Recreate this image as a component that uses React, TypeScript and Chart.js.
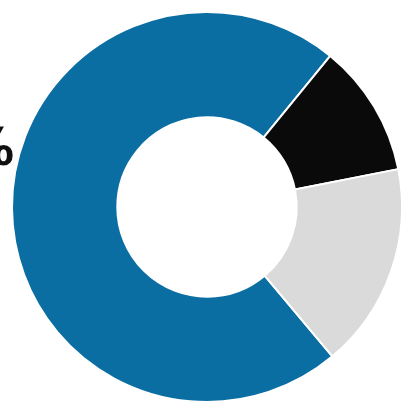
import React, { useEffect, useRef } from "react";
import { Chart, registerables } from "chart.js";

Chart.register(...registerables);

const categories = ["Blue", "Black", "Gray"];
const values = [72, 11, 17];
const colors = ["#0a6ea3", "#0a0a0a", "#dadada"];
const sideLabel = "%";

const textPlugin = {
  id: "sideText",
  afterDraw(chart: any) {
    const ctx = chart.ctx;
    ctx.save();
    ctx.fillStyle = "#111111";
    ctx.font = 'bold 52px "Liberation Sans Narrow", "DejaVu Sans Condensed", sans-serif';
    ctx.textAlign = "right";
    ctx.textBaseline = "alphabetic";
    ctx.fillText(sideLabel, 14, 165);
    ctx.restore();
  },
};

export default function App() {
  const ref = useRef<HTMLCanvasElement | null>(null);
  useEffect(() => {
    if (!ref.current) return;
    const chart = new Chart(ref.current, {
      type: "doughnut",
      data: {
        labels: categories,
        datasets: [
          {
            data: values,
            backgroundColor: colors,
            borderColor: "#ffffff",
            borderWidth: 2,
          },
        ],
      },
      options: {
        responsive: false,
        animation: false,
        rotation: 140,
        cutout: "46%",
        layout: { padding: { left: 11, top: 11, right: 17, bottom: 17 } },
        plugins: { legend: { display: false }, tooltip: { enabled: false } },
      },
      plugins: [textPlugin],
    });
    return () => chart.destroy();
  }, []);
  return (
    <div
      style={{
        position: "fixed",
        left: 0,
        top: 0,
        width: 401,
        height: 402,
        overflow: "hidden",
        background: "#ffffff",
      }}
    >
      <canvas ref={ref} width={420} height={420} style={{ width: 420, height: 420 }} />
    </div>
  );
}
